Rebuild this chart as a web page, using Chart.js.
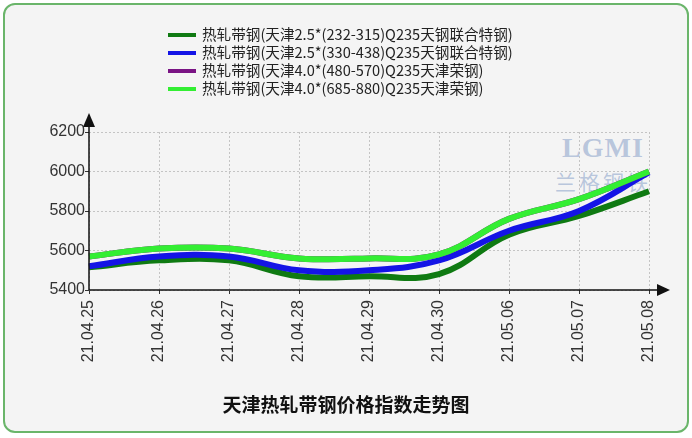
<!DOCTYPE html>
<html>
<head>
<meta charset="utf-8">
<script src="https://cdn.jsdelivr.net/npm/chart.js@4"></script>
<style>
  body { margin: 0; background: #fff; width: 692px; height: 438px; overflow: hidden; position: relative; }
  #frame { position: absolute; left: 3px; top: 3px; width: 682px; height: 426px;
           border: 2px solid #6ab56a; border-radius: 12px; background: #f4f4f4; }
  #wrap { position: absolute; left: 0; top: 0; width: 692px; height: 438px; }
  #legend { position: absolute; left: 168px; top: 25px; font: 14.6px "Noto Sans CJK SC", sans-serif; color: #222; }
  .item { height: 18px; line-height: 18px; white-space: nowrap; }
  .swatch { display: inline-block; width: 28px; height: 4px; vertical-align: middle; margin-right: 6px; position: relative; top: -1px; }
  #title { position: absolute; left: 0; width: 692px; top: 390px; text-align: center;
           font: bold 19px "Noto Sans CJK SC", sans-serif; color: #111; }
  #mark { position: absolute; left: 548px; top: 132px; color: rgba(110,140,190,0.45); text-align: center; width: 110px; white-space: nowrap; }
  #mark .a { font: bold 28px "Liberation Serif", serif; letter-spacing: 1px; }
  #mark .b { font: 21px "Noto Sans CJK SC", sans-serif; letter-spacing: 3px; margin-top: 2px; }
</style>
</head>
<body>
<div id="frame"></div>
<div id="mark"><div class="a">LGMI</div><div class="b">兰格钢铁</div></div>
<div id="wrap"><canvas id="chart"></canvas></div>
<div id="legend"></div>
<div id="title">天津热轧带钢价格指数走势图</div>
<script>
// data
const dates = ['21.04.25', '21.04.26', '21.04.27', '21.04.28', '21.04.29', '21.04.30', '21.05.06', '21.05.07', '21.05.08'];
const seriesNames = [
    '热轧带钢(天津2.5*(232-315)Q235天钢联合特钢)',
    '热轧带钢(天津2.5*(330-438)Q235天钢联合特钢)',
    '热轧带钢(天津4.0*(480-570)Q235天津荣钢)',
    '热轧带钢(天津4.0*(685-880)Q235天津荣钢)'
];
const strip232 = [5515, 5550, 5550, 5470, 5470, 5480, 5680, 5775, 5900];
const strip330 = [5520, 5570, 5570, 5500, 5500, 5550, 5700, 5800, 5995];
const strip480 = [5570, 5610, 5610, 5560, 5560, 5580, 5760, 5860, 6000];
const strip685 = [5570, 5610, 5610, 5560, 5560, 5580, 5760, 5860, 6000];
const yTicks = [5400, 5600, 5800, 6000, 6200];

const colors = ['#0f7a12', '#1414e6', '#7a1484', '#33ee33'];
const values = [strip232, strip330, strip480, strip685];

// html legend, stacked and left aligned like the original
const legend = document.getElementById('legend');
seriesNames.forEach((name, i) => {
    const row = document.createElement('div');
    row.className = 'item';
    row.innerHTML = '<span class="swatch" style="background:' + colors[i] + '"></span>' + name;
    legend.appendChild(row);
});

// axis arrows + axis lines
const arrowAxes = {
    id: 'arrowAxes',
    afterDatasetsDraw(chart) {
        const { ctx, chartArea: a } = chart;
        ctx.save();
        ctx.strokeStyle = '#111';
        ctx.fillStyle = '#111';
        ctx.lineWidth = 1.5;
        ctx.beginPath();
        ctx.moveTo(a.left, a.bottom);
        ctx.lineTo(a.left, a.top - 10);
        ctx.moveTo(a.left, a.bottom);
        ctx.lineTo(a.right + 10, a.bottom);
        ctx.stroke();
        // up arrow
        ctx.beginPath();
        ctx.moveTo(a.left, a.top - 19);
        ctx.lineTo(a.left - 6, a.top - 5);
        ctx.lineTo(a.left + 6, a.top - 5);
        ctx.closePath();
        ctx.fill();
        // right arrow
        ctx.beginPath();
        ctx.moveTo(a.right + 21, a.bottom);
        ctx.lineTo(a.right + 8, a.bottom - 6);
        ctx.lineTo(a.right + 8, a.bottom + 6);
        ctx.closePath();
        ctx.fill();
        ctx.restore();
    }
};

new Chart(document.getElementById('chart'), {
    type: 'line',
    data: {
        labels: dates,
        datasets: values.map((v, i) => ({
            label: seriesNames[i],
            data: v,
            borderColor: colors[i],
            backgroundColor: colors[i],
            borderWidth: 6,
            pointRadius: 0,
            tension: 0.4,
            order: 4 - i
        }))
    },
    options: {
        responsive: true,
        maintainAspectRatio: false,
        animation: false,
        layout: { padding: { left: 39, right: 43, top: 132, bottom: 68 } },
        plugins: {
            legend: { display: false },
            tooltip: { enabled: false }
        },
        scales: {
            x: {
                afterFit: s => { s.height = 80; },
                grid: { color: '#c4c4c4', tickColor: '#333', tickLength: 4 },
                border: { display: false, dash: [2, 2] },
                ticks: {
                    color: '#333',
                    font: { family: 'Liberation Sans', size: 16 },
                    maxRotation: 90, minRotation: 90,
                    padding: 6, autoSkip: false
                }
            },
            y: {
                min: yTicks[0],
                max: yTicks[yTicks.length - 1],
                afterFit: s => { s.width = 50; },
                afterBuildTicks: s => { s.ticks = yTicks.map(v => ({ value: v })); },
                grid: { color: '#c4c4c4', tickColor: '#333', tickLength: 4 },
                border: { display: false, dash: [2, 2] },
                ticks: {
                    color: '#333',
                    font: { family: 'Liberation Sans', size: 16 },
                    padding: 0,
                    callback: v => String(v)
                }
            }
        }
    },
    plugins: [arrowAxes]
});
</script>
</body>
</html>
